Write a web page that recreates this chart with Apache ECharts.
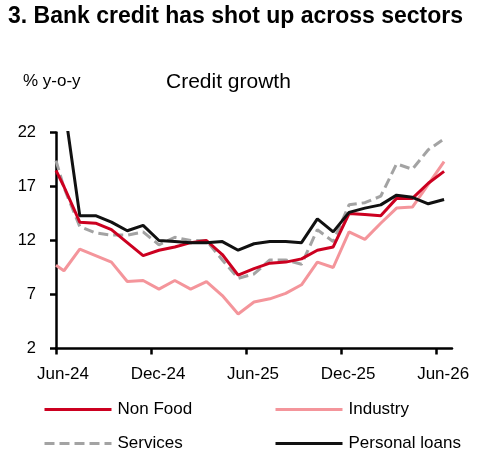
<!DOCTYPE html>
<html>
<head>
<meta charset="utf-8">
<script src="https://cdn.jsdelivr.net/npm/echarts@6/dist/echarts.min.js"></script>
<style>
html,body{margin:0;padding:0;background:#fff;}
#chart{width:477px;height:456px;}
</style>
</head>
<body>
<div id="chart"></div>
<script>
// x positions in months since Jun-24
const monthPos = [0, 0.5, 1.5, 2.5, 3.5, 4.5, 5.5, 6.5, 7.5, 8.5, 9.5, 10.5, 11.5, 12.5, 13.5, 14.5, 15.5, 16.5, 17.5, 18.5, 19.5, 20.5, 21.5, 22.5, 23.5, 24.5];
const nonFood = [18.5, 17.0, 13.7, 13.6, 13.0, 11.8, 10.6, 11.1, 11.4, 11.8, 12.0, 10.7, 8.8, 9.4, 9.9, 10.0, 10.3, 11.1, 11.4, 14.5, 14.4, 14.3, 15.9, 15.9, 17.3, 18.4];
const industry = [9.7, 9.2, 11.2, 10.6, 10.0, 8.2, 8.3, 7.5, 8.3, 7.5, 8.2, 6.9, 5.2, 6.3, 6.6, 7.1, 7.9, 10.0, 9.5, 12.8, 12.1, 13.6, 15.0, 15.1, 17.2, 19.3];
const services = [19.4, 16.9, 13.3, 12.7, 12.5, 12.5, 12.8, 11.6, 12.3, 12.0, 12.0, 10.2, 8.5, 8.9, 10.2, 10.2, 9.8, 13.0, 11.9, 15.3, 15.5, 16.1, 19.1, 18.6, 20.4, 21.4];
const personalLoans = [28.0, 24.7, 14.3, 14.3, 13.7, 12.9, 13.4, 12.0, 11.9, 11.8, 11.8, 11.9, 11.1, 11.7, 11.9, 11.9, 11.8, 14.0, 12.8, 14.6, 15.0, 15.3, 16.2, 16.0, 15.4, 15.8];
const tickPos = [0, 6, 12, 18, 24];
const tickLabels = ['Jun-24', 'Dec-24', 'Jun-25', 'Dec-25', 'Jun-26'];
const seriesNames = ['Non Food', 'Industry', 'Services', 'Personal loans'];

const FONT = "'Liberation Sans', Arial, sans-serif";
const pair = arr => arr.map((v, i) => [monthPos[i], v]);

const chart = echarts.init(document.getElementById('chart'), null, {renderer: 'canvas'});

function legendAt(name, left, top) {
  return {
    data: [name],
    left: left, top: top,
    orient: 'horizontal',
    padding: 0,
    itemWidth: 67, itemHeight: 14,
    selectedMode: false,
    itemStyle: {opacity: 0, borderWidth: 0},
    lineStyle: {width: 3},
    textStyle: {fontFamily: FONT, fontSize: 17, color: '#000', padding: [0, 0, 0, 1]}
  };
}

const option = {
  animation: false,
  backgroundColor: '#fff',
  title: [
    {text: '3. Bank credit has shot up across sectors', left: 8, top: 5, padding: 0,
     textStyle: {fontFamily: FONT, fontSize: 23, fontWeight: 'bold', color: '#000'}},
    {text: '% y-o-y', left: 23, top: 73, padding: 0,
     textStyle: {fontFamily: FONT, fontSize: 17, fontWeight: 'normal', color: '#000'}},
    {text: 'Credit growth', left: 166, top: 72, padding: 0,
     textStyle: {fontFamily: FONT, fontSize: 21, fontWeight: 'normal', color: '#000'}}
  ],
  legend: [
    legendAt(seriesNames[0], 43, 401),
    legendAt(seriesNames[1], 274, 401),
    legendAt(seriesNames[2], 43, 435),
    legendAt(seriesNames[3], 274, 435)
  ],
  grid: {left: 56, right: 25, top: 132.5, bottom: 107.5, containLabel: false},
  xAxis: {
    type: 'value', min: 0, max: 25,
    axisLine: {show: true, lineStyle: {color: '#000', width: 2.5}},
    axisTick: {show: true, length: 6, customValues: tickPos, lineStyle: {color: '#000', width: 2.5}},
    axisLabel: {customValues: tickPos, margin: 17, fontFamily: FONT, fontSize: 17, color: '#000',
      padding: [0, 0, 0, 14],
      formatter: v => tickLabels[tickPos.indexOf(v)] || ''},
    splitLine: {show: false}
  },
  yAxis: {
    type: 'value', min: 2, max: 22, interval: 5,
    axisLine: {show: true, lineStyle: {color: '#000', width: 2.5}},
    axisTick: {show: true, length: 6, lineStyle: {color: '#000', width: 2.5}},
    axisLabel: {margin: 20, fontFamily: FONT, fontSize: 16.5, color: '#000'},
    splitLine: {show: false}
  },
  series: [
    {name: seriesNames[1], type: 'line', symbol: 'none', data: pair(industry),
     lineStyle: {color: '#F4959B', width: 3}, itemStyle: {color: '#F4959B'}, z: 2},
    {name: seriesNames[2], type: 'line', symbol: 'none', data: pair(services),
     lineStyle: {color: '#A3A3A3', width: 3, type: [10, 5]}, itemStyle: {color: '#A3A3A3'}, z: 3},
    {name: seriesNames[0], type: 'line', symbol: 'none', data: pair(nonFood),
     lineStyle: {color: '#CC0020', width: 3}, itemStyle: {color: '#CC0020'}, z: 4},
    {name: seriesNames[3], type: 'line', symbol: 'none', data: pair(personalLoans),
     lineStyle: {color: '#111111', width: 3}, itemStyle: {color: '#111111'}, z: 5}
  ]
};
chart.setOption(option);
</script>
</body>
</html>
